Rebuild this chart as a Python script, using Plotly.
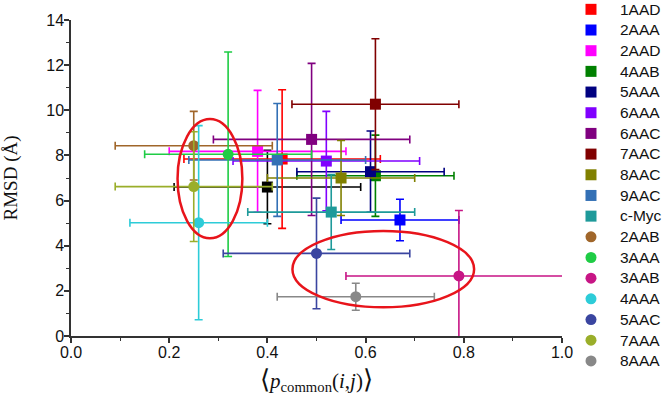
import plotly.graph_objects as go

names = ["1AAD", "2AAA", "2AAD", "4AAB", "5AAA", "6AAA", "6AAC", "7AAC", "8AAC", "9AAC",
         "c-Myc", "2AAB", "3AAA", "3AAB", "4AAA", "5AAC", "7AAA", "8AAA"]
symbols = ["square"] * 11 + ["circle"] * 7
colors = ["#FF0000", "#0000FF", "#FF00FF", "#008000", "#000080", "#8000FF", "#800080",
          "#800000", "#808000", "#3370B5", "#1E9A9A", "#A0662A", "#1FCC45", "#C71585",
          "#2DCCD8", "#3A45A0", "#9AAE2A", "#888888"]
x_vals = [0.43, 0.67, 0.38, 0.62, 0.61, 0.52, 0.49, 0.62, 0.55, 0.42,
          0.53, 0.25, 0.32, 0.79, 0.26, 0.50, 0.25, 0.58]
x_errs = [0.20, 0.12, 0.18, 0.16, 0.15, 0.19, 0.20, 0.17, 0.15, 0.18,
          0.17, 0.16, 0.17, 0.23, 0.14, 0.19, 0.16, 0.16]
y_vals = [7.84, 5.14, 8.18, 7.10, 7.28, 7.75, 8.71, 10.27, 7.00, 7.80,
          5.49, 8.43, 8.05, 2.66, 5.02, 3.66, 6.62, 1.74]
y_errs = [3.07, 0.92, 2.70, 1.80, 1.80, 2.20, 3.37, 2.90, 1.66, 2.50,
          1.66, 1.52, 4.53, 2.90, 4.30, 2.45, 2.43, 0.60]

# unlabeled black point
extra_x, extra_xerr, extra_y, extra_yerr = [0.40], [0.19], [6.60], [1.63]

# highlighted clusters (ellipses): x0, x1, y0, y1
ellipses = [(0.217, 0.349, 4.33, 9.61), (0.451, 0.821, 1.27, 4.65)]

fig = go.Figure()

fig.add_trace(go.Scatter(
    x=extra_x, y=extra_y, mode="markers", showlegend=False,
    marker=dict(symbol="square", size=11, color="#000000"),
    error_x=dict(type="data", array=extra_xerr, color="#000000", thickness=1.6, width=4),
    error_y=dict(type="data", array=extra_yerr, color="#000000", thickness=1.6, width=4),
))

for n, s, c, xv, xe, yv, ye in zip(names, symbols, colors, x_vals, x_errs, y_vals, y_errs):
    fig.add_trace(go.Scatter(
        x=[xv], y=[yv], name=f"<span style='font-size:15.5px'>{n}</span>", mode="markers",
        marker=dict(symbol=s, size=11, color=c),
        error_x=dict(type="data", array=[xe], color=c, thickness=1.6, width=4),
        error_y=dict(type="data", array=[ye], color=c, thickness=1.6, width=4),
    ))

for (x0, x1, y0, y1) in ellipses:
    fig.add_shape(type="circle", xref="x", yref="y", x0=x0, x1=x1, y0=y0, y1=y1,
                  line=dict(color="#E8141B", width=2.5), fillcolor="rgba(0,0,0,0)")

axis_font = dict(family="Liberation Sans, Arial, sans-serif", size=16, color="#111111")
serif = "Liberation Serif, Times New Roman, serif"

fig.update_layout(
    width=665, height=404,
    margin=dict(l=71, r=103, t=20, b=68, autoexpand=False),
    paper_bgcolor="white", plot_bgcolor="white",
    showlegend=True,
    legend=dict(xref="container", yref="paper", x=0.8451, y=1.0823,
                xanchor="left", yanchor="top", maxheight=404,
                font=dict(family="Liberation Sans, Arial, sans-serif", size=13.6, color="#111111"),
                itemwidth=48, tracegroupgap=0, bgcolor="rgba(0,0,0,0)"),
    xaxis=dict(range=[0, 1.0], dtick=0.2, tickformat=".1f", showline=True, linecolor="#333333",
               linewidth=1.5, ticks="outside", ticklen=5, tickwidth=1.5, tickcolor="#333333",
               minor=dict(dtick=0.1, ticks="outside", ticklen=3, tickcolor="#333333", tickwidth=1.2),
               showgrid=False, zeroline=False, tickfont=axis_font, automargin=False,
               ticklabelstandoff=-4,
               title=dict(text="<span style='font-size:26px'>⟨</span><i>p</i><sub>common</sub>(<i>i</i>,<i>j</i>)<span style='font-size:26px'>⟩</span>",
                          font=dict(family=serif, size=21, color="#111111"),
                          standoff=13)),
    yaxis=dict(range=[0, 14], dtick=2, showline=True, linecolor="#333333",
               linewidth=1.5, ticks="outside", ticklen=5, tickwidth=1.5, tickcolor="#333333",
               minor=dict(dtick=1, ticks="outside", ticklen=3, tickcolor="#333333", tickwidth=1.2),
               showgrid=False, zeroline=False, tickfont=axis_font, automargin=False,
               ticklabelstandoff=-3,
               title=dict(text="RMSD (Å)",
                          font=dict(family=serif, size=19, color="#111111"),
                          standoff=30)),
)

fig.write_html("out.html", config={"displayModeBar": False},
               post_script="document.body.style.margin='0';")
